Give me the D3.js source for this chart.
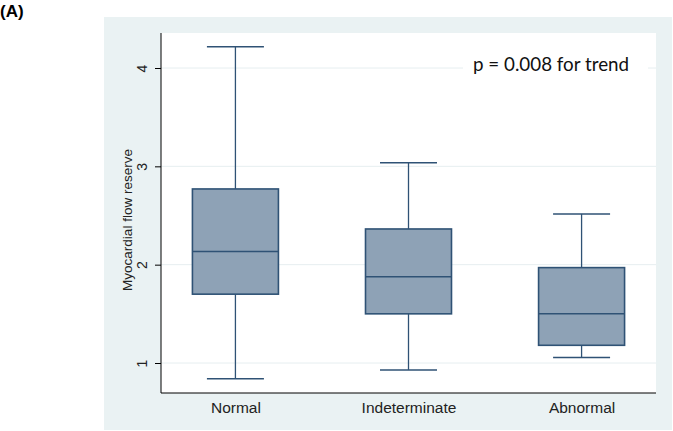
<!DOCTYPE html>
<html><head><meta charset="utf-8">
<script src="https://cdn.jsdelivr.net/npm/d3@7"></script>
<style>body{margin:0;background:#fff}svg{display:block}</style>
</head><body>
<script>
const categories = ["Normal", "Indeterminate", "Abnormal"];
const whiskerLow  = [0.84, 0.93, 1.055];
const q1          = [1.70, 1.50, 1.18];
const median      = [2.135, 1.878, 1.50];
const q3          = [2.77, 2.363, 1.97];
const whiskerHigh = [4.215, 3.037, 2.516];
const yTicks = [1, 2, 3, 4];
const yTitle = "Myocardial flow reserve";
const annotation = "p = 0.008 for trend";
const panelLabel = "(A)";

const W = 673, H = 431;
const svg = d3.select("body").append("svg").attr("width", W).attr("height", H);

const panel = {x0: 104, y0: 17, x1: 672, y1: 430};
const plot = {x0: 161, y0: 33, x1: 656, y1: 393};

svg.append("rect").attr("x", panel.x0).attr("y", panel.y0)
  .attr("width", panel.x1 - panel.x0).attr("height", panel.y1 - panel.y0).attr("fill", "#eaf2f3");
svg.append("rect").attr("x", plot.x0).attr("y", plot.y0)
  .attr("width", plot.x1 - plot.x0).attr("height", plot.y1 - plot.y0).attr("fill", "#fff");

const y = d3.scaleLinear().domain([1, 4]).range([363, 68]);
const x = d3.scalePoint().domain(categories).range([plot.x0, plot.x1]).padding(0.43);

// gridlines
svg.append("g").selectAll("line").data(yTicks).join("line")
  .attr("x1", plot.x0).attr("x2", plot.x1)
  .attr("y1", d => y(d)).attr("y2", d => y(d))
  .attr("stroke", "#e6eef0").attr("stroke-width", 1);

// y axis
const yAxis = svg.append("g").attr("transform", `translate(${plot.x0},0)`)
  .call(d3.axisLeft(y).tickValues(yTicks).tickSize(6).tickPadding(0).tickFormat(d3.format("d")));
yAxis.select(".domain").attr("d", `M0,${plot.y0}V${plot.y1}`).attr("stroke", "#000");
yAxis.selectAll(".tick line").attr("stroke", "#000");
yAxis.selectAll(".tick text")
  .attr("transform", "rotate(-90)")
  .attr("x", 0).attr("y", -14).attr("dy", "0")
  .attr("text-anchor", "middle")
  .style("font-family", "Liberation Sans, Arial, sans-serif").style("font-size", "14px").attr("fill", "#222");

// x axis
const xAxis = svg.append("g").attr("transform", `translate(0,${plot.y1})`)
  .call(d3.axisBottom(x).tickSize(0).tickPadding(9));
xAxis.select(".domain").attr("d", `M${plot.x0},0H${plot.x1}`).attr("stroke", "#000");
xAxis.selectAll(".tick text")
  .style("font-family", "Liberation Sans, Arial, sans-serif").style("font-size", "15.5px").attr("fill", "#222");

// y title
svg.append("text").attr("transform", `translate(132,220) rotate(-90)`)
  .attr("text-anchor", "middle")
  .style("font-family", "Liberation Sans, Arial, sans-serif").style("font-size", "13.5px").attr("fill", "#222")
  .text(yTitle);

// boxes
const boxW = 86, capW = 57;
const stroke = "#2f5275";
const data = categories.map((c, i) => ({c, lo: whiskerLow[i], q1: q1[i], med: median[i], q3: q3[i], hi: whiskerHigh[i]}));
const g = svg.append("g").selectAll("g").data(data).join("g");
g.append("line").attr("x1", d => x(d.c)).attr("x2", d => x(d.c))
  .attr("y1", d => y(d.hi)).attr("y2", d => y(d.q3)).attr("stroke", stroke).attr("stroke-width", 1.3);
g.append("line").attr("x1", d => x(d.c)).attr("x2", d => x(d.c))
  .attr("y1", d => y(d.q1)).attr("y2", d => y(d.lo)).attr("stroke", stroke).attr("stroke-width", 1.3);
g.append("line").attr("x1", d => x(d.c) - capW / 2).attr("x2", d => x(d.c) + capW / 2)
  .attr("y1", d => y(d.hi)).attr("y2", d => y(d.hi)).attr("stroke", stroke).attr("stroke-width", 1.5);
g.append("line").attr("x1", d => x(d.c) - capW / 2).attr("x2", d => x(d.c) + capW / 2)
  .attr("y1", d => y(d.lo)).attr("y2", d => y(d.lo)).attr("stroke", stroke).attr("stroke-width", 1.5);
g.append("rect").attr("x", d => x(d.c) - boxW / 2).attr("width", boxW)
  .attr("y", d => y(d.q3)).attr("height", d => y(d.q1) - y(d.q3))
  .attr("fill", "#8ea2b6").attr("stroke", stroke).attr("stroke-width", 1.6);
g.append("line").attr("x1", d => x(d.c) - boxW / 2).attr("x2", d => x(d.c) + boxW / 2)
  .attr("y1", d => y(d.med)).attr("y2", d => y(d.med)).attr("stroke", stroke).attr("stroke-width", 1.5);

// annotation with white backing
svg.append("rect").attr("x", 463).attr("y", 55).attr("width", 185).attr("height", 24).attr("fill", "#fff");
svg.append("text").attr("x", 473).attr("y", 71)
  .style("font-family", "Lato, 'Open Sans', sans-serif").style("font-size", "18.8px").attr("fill", "#111")
  .text(annotation);

// panel label
svg.append("text").attr("x", 0).attr("y", 17)
  .style("font-family", "Liberation Sans, Arial, sans-serif").style("font-size", "17px").style("font-weight", "bold")
  .text(panelLabel);
</script>
</body></html>
